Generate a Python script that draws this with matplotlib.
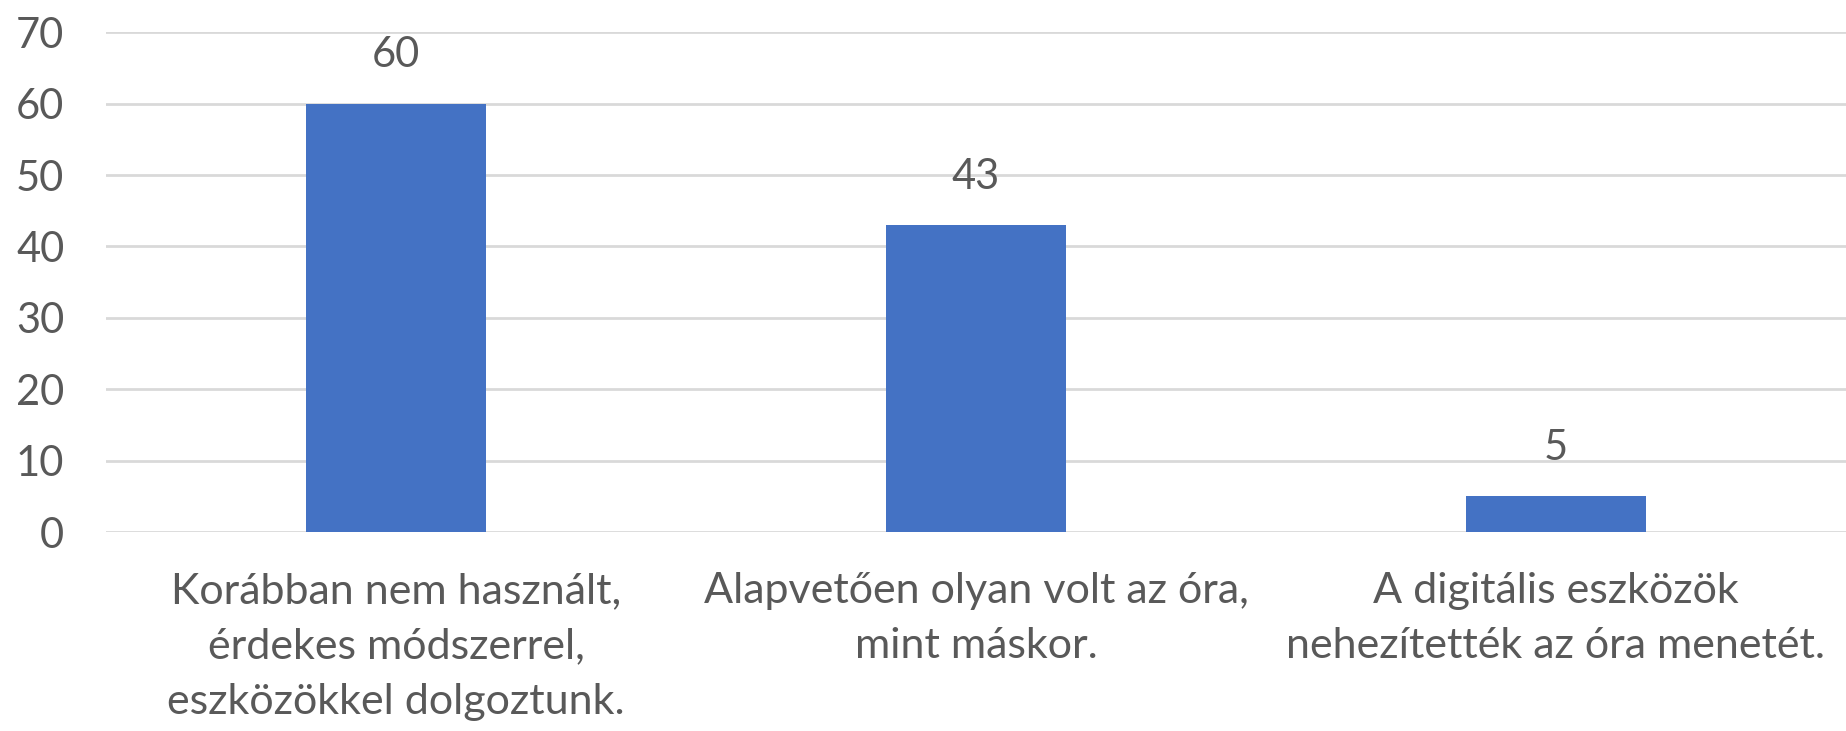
import matplotlib.pyplot as plt
import numpy as np

categories = [
    'Korábban nem használt,\nérdekes módszerrel,\neszközökkel dolgoztunk.',
    'Alapvetően olyan volt az óra,\nmint máskor.',
    'A digitális eszközök\nnehezítették az óra menetét.',
]
values = [60, 43, 5]
yticks = [0, 10, 20, 30, 40, 50, 60, 70]

bar_color = '#4472C4'
text_color = '#595959'
grid_color = '#D9D9D9'

plt.rcParams['font.family'] = ['Lato', 'DejaVu Sans']

fig = plt.figure(figsize=(18.46, 7.31), dpi=100)
ax = fig.add_axes([0.0574, 0.272, 0.9426, 0.684])

x = np.arange(len(categories))
bars = ax.bar(x, values, width=0.31, color=bar_color, zorder=3)

for rect, v in zip(bars, values):
    ax.annotate(str(v), (rect.get_x() + rect.get_width() / 2, v),
                xytext=(0, 21), textcoords='offset points',
                ha='center', va='bottom', fontsize=30, color=text_color)

ax.set_xlim(-0.5, len(categories) - 0.5)
ax.set_ylim(0, 70)
ax.set_yticks(yticks)
ax.yaxis.grid(True, color=grid_color, linewidth=2.0, zorder=0)
ax.set_axisbelow(True)

ax.set_xticks(x)
ax.set_xticklabels(categories, fontsize=31, color=text_color, linespacing=1.55)
ax.tick_params(axis='x', length=0, pad=29)
ax.tick_params(axis='y', length=0, pad=30, labelsize=30, labelcolor=text_color)

for s in ax.spines.values():
    s.set_visible(False)

fig.savefig('out.png', dpi=100)
